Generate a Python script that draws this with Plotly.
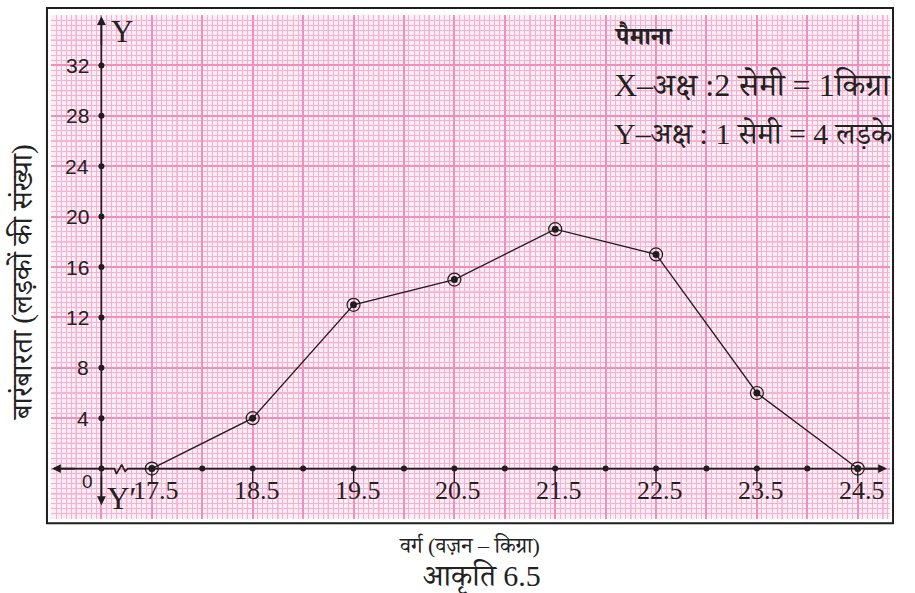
import numpy as np
import plotly.graph_objects as go

# Frequency polygon: class marks (kg) and number of boys
class_marks = [17.5, 18.5, 19.5, 20.5, 21.5, 22.5, 23.5, 24.5]
frequencies = [0, 4, 13, 15, 19, 17, 6, 0]
x_tick_labels = ["17.5", "18.5", "19.5", "20.5", "21.5", "22.5", "23.5", "24.5"]
y_tick_values = [4, 8, 12, 16, 20, 24, 28, 32]

DEV = "Liberation Serif, Noto Serif Devanagari, Noto Sans Devanagari, Lohit Devanagari, serif"
SERIF = "Liberation Serif, Times New Roman, serif"
SANS = "Liberation Sans, Arial, sans-serif"
INK = "#1e1e1e"

origin_x = 17.0          # the Y axis sits here; the gap 0..17 is broken out
x_range = [16.5, 24.82]
y_range = [-4, 36]

fig = go.Figure()

# medium (5 mm) graph-paper lines
shapes = []
for xv in np.arange(16.75, 24.82, 0.5):
    shapes.append(dict(type="line", xref="x", yref="paper", x0=xv, x1=xv, y0=0, y1=1,
                       line=dict(color="#f3a2c6", width=1.3), layer="below"))
for yv in np.arange(-2, 36, 4):
    shapes.append(dict(type="line", xref="paper", yref="y", x0=0, x1=1, y0=yv, y1=yv,
                       line=dict(color="#f3a2c6", width=1.3), layer="below"))
# outer frame
shapes.append(dict(type="rect", xref="paper", yref="paper", x0=-0.0048, x1=1.0036,
                   y0=-0.0085, y1=1.0139, line=dict(color=INK, width=2)))

# X axis with the zig-zag break between 0 and the first class mark
ax_x = [16.55, origin_x, 17.129, 17.149, 17.201, 17.235, 17.261, 24.75]
ax_y = [0, 0, 0, -0.42, 0.32, -0.22, 0, 0]
fig.add_trace(go.Scatter(x=ax_x, y=ax_y, mode="lines",
                         line=dict(color=INK, width=1.6), hoverinfo="skip"))
# Y axis
fig.add_trace(go.Scatter(x=[origin_x, origin_x], y=[-2.7, 35.6], mode="lines",
                         line=dict(color=INK, width=1.6), hoverinfo="skip"))

# short drop ticks under each labelled class mark
tick_x, tick_y = [], []
for xv in class_marks:
    tick_x += [xv, xv, None]
    tick_y += [0, -1.15, None]
fig.add_trace(go.Scatter(x=tick_x, y=tick_y, mode="lines",
                         line=dict(color=INK, width=1.2), hoverinfo="skip"))

# dots along the axes
half_steps = list(np.arange(origin_x, 24.51, 0.5))
fig.add_trace(go.Scatter(x=half_steps, y=[0] * len(half_steps), mode="markers",
                         marker=dict(color=INK, size=6), hoverinfo="skip"))
fig.add_trace(go.Scatter(x=[origin_x] * len(y_tick_values), y=y_tick_values, mode="markers",
                         marker=dict(color=INK, size=6), hoverinfo="skip"))

# polygon
fig.add_trace(go.Scatter(x=class_marks, y=frequencies, mode="lines",
                         line=dict(color=INK, width=1.3)))
fig.add_trace(go.Scatter(x=class_marks, y=frequencies, mode="markers",
                         marker=dict(symbol="circle-open", size=13, color=INK,
                                     line=dict(width=1.2, color=INK))))
fig.add_trace(go.Scatter(x=class_marks, y=frequencies, mode="markers",
                         marker=dict(size=7, color=INK)))

ann = []
# arrowheads
arrow = dict(text="", showarrow=True, arrowhead=2, arrowsize=1.1, arrowwidth=1.6,
             arrowcolor=INK, axref="x", ayref="y", xref="x", yref="y")
ann.append(dict(arrow, x=24.79, y=0, ax=24.55, ay=0))
ann.append(dict(arrow, x=16.51, y=0, ax=16.75, ay=0))
ann.append(dict(arrow, x=origin_x, y=35.9, ax=origin_x, ay=33.5))
ann.append(dict(arrow, x=origin_x, y=-2.9, ax=origin_x, ay=-0.5))

for yv in y_tick_values:
    ann.append(dict(x=origin_x, y=yv, text=str(yv), showarrow=False, xanchor="right",
                    yanchor="middle", xshift=-10,
                    font=dict(family=SANS, size=21, color="#222")))
ann.append(dict(x=origin_x, y=0, text="0", showarrow=False, xanchor="right",
                yanchor="middle", xshift=-6, yshift=-13,
                font=dict(family=SANS, size=19, color="#222")))
for xv, lab in zip(class_marks, x_tick_labels):
    ann.append(dict(x=xv, y=0, text=lab, showarrow=False, xanchor="center",
                    yanchor="top", yshift=-5, xshift=4,
                    font=dict(family=SERIF, size=26, color="#222")))

letter = dict(showarrow=False, xanchor="center", yanchor="middle",
              font=dict(family=SERIF, size=31, color="#222"))
ann.append(dict(letter, x=17.2, y=34.7, text="Y"))
ann.append(dict(letter, x=16.42, y=-1.6, text="X′"))
ann.append(dict(letter, x=24.98, y=-1.5, text="X"))
ann.append(dict(letter, x=17.2, y=-2.4, text="Y′"))

ann.append(dict(xref="paper", yref="paper", x=0.6687, y=0.960, xanchor="left",
                yanchor="middle", text="<b>पैमाना</b>", showarrow=False,
                font=dict(family=DEV, size=25, color="#222")))
ann.append(dict(xref="paper", yref="paper", x=0.6687, y=0.861, xanchor="left",
                yanchor="middle", text="X–अक्ष :2 सेमी = 1किग्रा", showarrow=False,
                font=dict(family=DEV, size=32, color="#222")))
ann.append(dict(xref="paper", yref="paper", x=0.6687, y=0.764, xanchor="left",
                yanchor="middle", text="Y–अक्ष : 1 सेमी = 4 लड़के", showarrow=False,
                font=dict(family=DEV, size=30, color="#222")))

ann.append(dict(xref="paper", yref="paper", x=0.4994, y=-0.052, xanchor="center",
                yanchor="middle", text="वर्ग (वज़न – किग्रा)", showarrow=False,
                font=dict(family=DEV, size=22, color="#222")))
ann.append(dict(xref="paper", yref="paper", x=0.514, y=-0.115, xanchor="center",
                yanchor="middle", text="आकृति 6.5", showarrow=False,
                font=dict(family=DEV, size=30, color="#222")))
ann.append(dict(xref="paper", yref="paper", x=-0.0346, y=0.47, xanchor="center",
                yanchor="middle", textangle=-90,
                text="बारंबारता (लड़कों की संख्या)", showarrow=False,
                font=dict(family=DEV, size=29, color="#222")))

fig.update_layout(
    width=915, height=593,
    margin=dict(l=51, r=25, t=15, b=74),
    paper_bgcolor="white",
    plot_bgcolor="#fdedf4",
    showlegend=False,
    shapes=shapes,
    annotations=ann,
    xaxis=dict(range=x_range, showticklabels=False, ticks="", zeroline=False,
               tick0=origin_x, dtick=0.5, showgrid=True, gridcolor="#f08ebc", gridwidth=1.6,
               minor=dict(tick0=origin_x, dtick=0.05, showgrid=True,
                          gridcolor="#f7b0cf", gridwidth=1),
               fixedrange=True),
    yaxis=dict(range=y_range, showticklabels=False, ticks="", zeroline=False,
               tick0=0, dtick=4, showgrid=True, gridcolor="#f08ebc", gridwidth=1.6,
               minor=dict(tick0=0, dtick=0.4, showgrid=True,
                          gridcolor="#f7b0cf", gridwidth=1),
               fixedrange=True),
)

fig.write_html("out.html")
